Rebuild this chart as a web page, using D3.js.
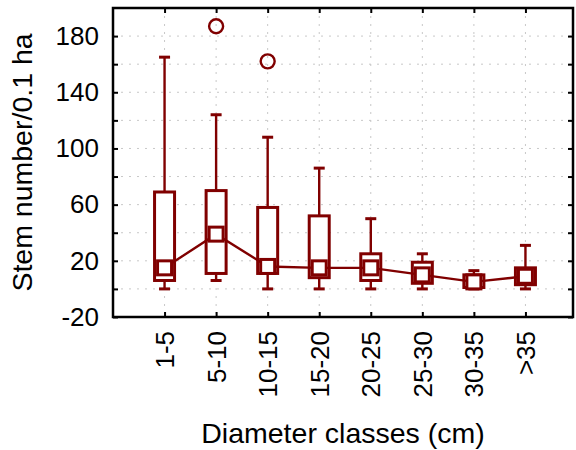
<!DOCTYPE html>
<html>
<head>
<meta charset="utf-8">
<script src="https://cdn.jsdelivr.net/npm/d3@7"></script>
<style>
  html, body { margin: 0; padding: 0; background: #fff; }
  svg { display: block; font-family: "Liberation Sans", Arial, sans-serif; }
</style>
</head>
<body>
<svg id="chart" width="576" height="450"></svg>
<script>
// ---- data ----
const categories = ["1-5", "5-10", "10-15", "15-20", "20-25", "25-30", "30-35", ">35"];
const mins    = [0,   6,   0,   0,  0,  0,  0,  0];
const q1s     = [6,   11,  11,  8,  6,  4,  1,  3];
const medians = [15,  39,  16,  15, 15, 10, 5,  9];
const q3s     = [69,  70,  58,  52, 25, 19, 10, 15];
const maxs    = [165, 124, 108, 86, 50, 25, 13, 31];
const outlierCats   = ["5-10", "10-15"];
const outlierValues = [187, 162];
const yTicks = [-20, 0, 20, 40, 60, 80, 100, 120, 140, 160, 180];
const yLabels = [-20, 20, 60, 100, 140, 180];
const xTitle = "Diameter classes (cm)";
const yTitle = "Stem number/0.1 ha";

// ---- layout ----
const pL = 113, pR = 573, pT = 8, pB = 317;
const color = "#800000";
const svg = d3.select("#chart");

const x = d3.scalePoint().domain(categories).range([pL, pR + 4]).padding(1);
const y = d3.scaleLinear().domain([-20, 200]).range([pB, pT]);

const data = categories.map((c, i) => ({
  cat: c, min: mins[i], q1: q1s[i], med: medians[i], q3: q3s[i], max: maxs[i]
}));

// grid
const grid = svg.append("g").attr("stroke", "#c8c8c8").attr("stroke-width", 1)
  .attr("stroke-dasharray", "2,6");
grid.selectAll("line.h").data(yTicks.filter(v => v > -20)).join("line")
  .attr("x1", pL).attr("x2", pR)
  .attr("y1", d => y(d)).attr("y2", d => y(d));
grid.selectAll("line.v").data(categories).join("line")
  .attr("y1", pT).attr("y2", pB)
  .attr("x1", d => x(d)).attr("x2", d => x(d));

// axes
const fmt = d => yLabels.includes(d) ? String(d) : "";
const yAxisL = svg.append("g").attr("transform", `translate(${pL},0)`)
  .call(d3.axisLeft(y).tickValues(yTicks).tickFormat(fmt).tickSize(-5).tickPadding(14));
const yAxisR = svg.append("g").attr("transform", `translate(${pR},0)`)
  .call(d3.axisRight(y).tickValues(yTicks).tickFormat("").tickSize(-5));
const xAxisB = svg.append("g").attr("transform", `translate(0,${pB})`)
  .call(d3.axisBottom(x).tickSize(-5).tickPadding(14));
const xAxisT = svg.append("g").attr("transform", `translate(0,${pT})`)
  .call(d3.axisTop(x).tickFormat("").tickSize(-5));

[yAxisL, yAxisR, xAxisB, xAxisT].forEach(g => {
  g.select(".domain").remove();
  g.selectAll(".tick line").attr("stroke", "#000").attr("stroke-width", 2);
});
yAxisL.selectAll("text").attr("font-size", 26).attr("fill", "#000")
  .attr("font-family", "Liberation Sans, Arial, sans-serif");
xAxisB.selectAll("text").attr("font-size", 26).attr("fill", "#000")
  .attr("font-family", "Liberation Sans, Arial, sans-serif")
  .attr("transform", "rotate(-90)")
  .attr("text-anchor", "end")
  .attr("x", -14).attr("y", 0).attr("dy", "0.35em");

// frame
svg.append("rect").attr("x", pL).attr("y", pT)
  .attr("width", pR - pL).attr("height", pB - pT)
  .attr("fill", "none").attr("stroke", "#000").attr("stroke-width", 2.5);

// boxes
const bw = 20, capW = 11, ms = 14, sw = 3;
const g = svg.append("g").attr("stroke", color).attr("stroke-width", sw).attr("fill", "none");

// whiskers
g.selectAll("line.wu").data(data).join("line")
  .attr("stroke-width", 2.4)
  .attr("x1", d => x(d.cat)).attr("x2", d => x(d.cat))
  .attr("y1", d => y(d.q3)).attr("y2", d => y(d.max));
g.selectAll("line.wl").data(data).join("line")
  .attr("stroke-width", 2.4)
  .attr("x1", d => x(d.cat)).attr("x2", d => x(d.cat))
  .attr("y1", d => y(d.q1)).attr("y2", d => y(d.min));
g.selectAll("line.cu").data(data).join("line")
  .attr("x1", d => x(d.cat) - capW / 2).attr("x2", d => x(d.cat) + capW / 2)
  .attr("y1", d => y(d.max)).attr("y2", d => y(d.max));
g.selectAll("line.cl").data(data).join("line")
  .attr("x1", d => x(d.cat) - capW / 2).attr("x2", d => x(d.cat) + capW / 2)
  .attr("y1", d => y(d.min)).attr("y2", d => y(d.min));

// boxes
g.selectAll("rect.box").data(data).join("rect")
  .attr("x", d => x(d.cat) - bw / 2).attr("width", bw)
  .attr("y", d => y(d.q3)).attr("height", d => y(d.q1) - y(d.q3))
  .attr("fill", "#fff");

// median line
g.append("path").datum(data).attr("stroke-width", 2.4)
  .attr("d", d3.line().x(d => x(d.cat)).y(d => y(d.med)));

// median markers
g.selectAll("rect.med").data(data).join("rect")
  .attr("x", d => x(d.cat) - ms / 2).attr("width", ms)
  .attr("y", d => y(d.med) - ms / 2).attr("height", ms)
  .attr("fill", "#fff");

// outliers
g.selectAll("circle").data(outlierCats.map((c, i) => ({cat: c, v: outlierValues[i]}))).join("circle")
  .attr("stroke-width", 2.4)
  .attr("cx", d => x(d.cat)).attr("cy", d => y(d.v)).attr("r", 7);

// titles
svg.append("text").attr("x", (pL + pR) / 2).attr("y", 443)
  .attr("text-anchor", "middle").attr("font-size", 28.5).attr("fill", "#000")
  .text(xTitle);
svg.append("text").attr("transform", `translate(22,${(pT + pB) / 2}) rotate(-90)`)
  .attr("text-anchor", "middle").attr("dy", "0.35em").attr("font-size", 28.5).attr("fill", "#000")
  .text(yTitle);
</script>
</body>
</html>
